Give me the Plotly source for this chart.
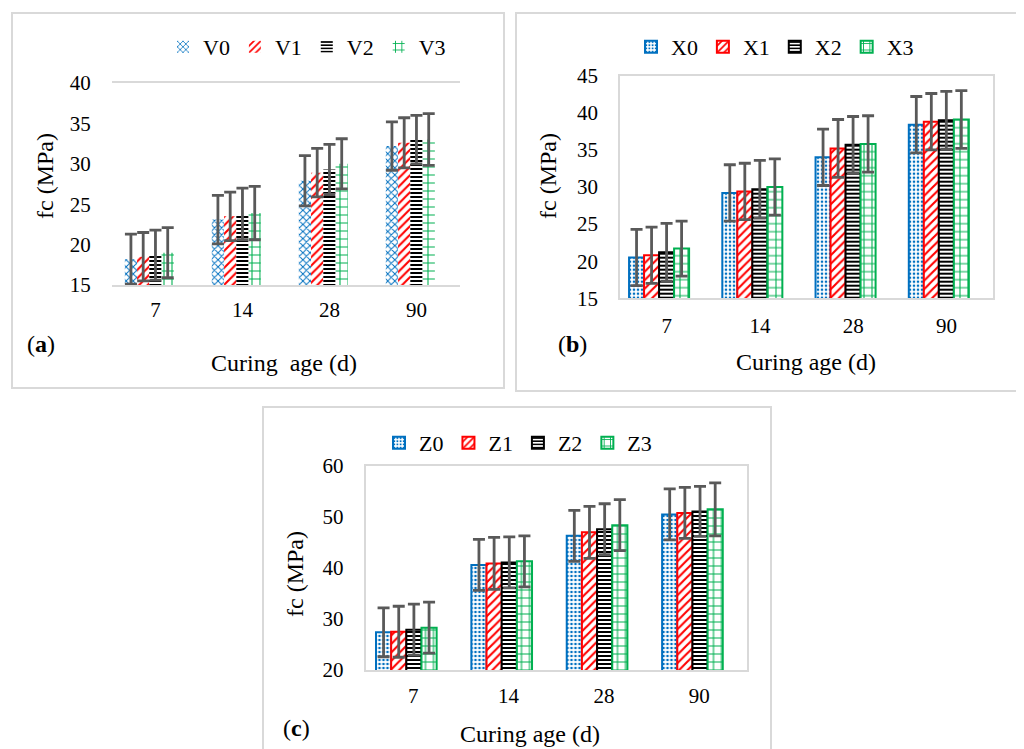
import plotly.graph_objects as go

W, H = 1024, 749
OX, OY = 8, 8  # page body margin of the browser
FONT = "Liberation Serif"

ages = ["7", "14", "28", "90"]

# Panel (a)
V_names = ["V0", "V1", "V2", "V3"]
V0 = [18.2, 23.1, 27.9, 32.2]
V1 = [18.5, 23.5, 28.9, 32.6]
V2 = [18.7, 23.8, 29.3, 33.0]
V3 = [19.0, 23.9, 30.0, 33.0]
V0_err = [3.1, 3.0, 3.1, 3.0]
V1_err = [3.0, 3.0, 3.0, 3.1]
V2_err = [3.1, 3.2, 3.1, 3.0]
V3_err = [3.1, 3.3, 3.1, 3.2]

# Panel (b)
X_names = ["X0", "X1", "X2", "X3"]
X0 = [20.5, 29.2, 34.0, 38.4]
X1 = [20.8, 29.4, 35.2, 38.8]
X2 = [21.2, 29.7, 35.7, 39.0]
X3 = [21.7, 30.0, 35.8, 39.1]
X0_err = [3.8, 3.8, 3.8, 3.8]
X1_err = [3.8, 3.8, 3.9, 3.8]
X2_err = [3.9, 3.9, 3.8, 3.9]
X3_err = [3.7, 3.8, 3.8, 3.9]

# Panel (c)
Z_names = ["Z0", "Z1", "Z2", "Z3"]
Z0 = [27.4, 40.6, 46.3, 50.5]
Z1 = [27.5, 40.9, 47.0, 50.8]
Z2 = [27.9, 41.1, 47.6, 51.1]
Z3 = [28.3, 41.3, 48.4, 51.5]
Z0_err = [4.8, 5.0, 5.0, 5.0]
Z1_err = [5.0, 5.1, 5.1, 5.0]
Z2_err = [5.0, 5.0, 5.0, 4.9]
Z3_err = [5.0, 5.0, 5.0, 5.2]

colors = ["#0070C0", "#FF0000", "#000000", "#00B050"]
patA = [dict(shape="x", size=5, solidity=0.35),
        dict(shape="/", size=6, solidity=0.35),
        dict(shape="-", size=4, solidity=0.5),
        dict(shape="+", size=8, solidity=0.25)]
patB = [dict(shape=".", size=4, solidity=0.35),
        dict(shape="/", size=6, solidity=0.35),
        dict(shape="-", size=4, solidity=0.5),
        dict(shape="+", size=8, solidity=0.25)]

def px(x):
    return (x - OX) / W

def py(y):
    return 1 - (y - OY) / H

fig = go.Figure()

panels = [
    dict(names=V_names, vals=[V0, V1, V2, V3], errs=[V0_err, V1_err, V2_err, V3_err],
         pats=patA, outline=0, xa="x", ya="y", legend="legend", bw=0.141, start=-0.353),
    dict(names=X_names, vals=[X0, X1, X2, X3], errs=[X0_err, X1_err, X2_err, X3_err],
         pats=patB, outline=2, xa="x2", ya="y2", legend="legend2", bw=0.161, start=-0.403),
    dict(names=Z_names, vals=[Z0, Z1, Z2, Z3], errs=[Z0_err, Z1_err, Z2_err, Z3_err],
         pats=patB, outline=2, xa="x3", ya="y3", legend="legend3", bw=0.159, start=-0.39),
]

for p in panels:
    for i in range(4):
        pat = dict(p["pats"][i])
        pat.update(fgcolor=colors[i], bgcolor="white", fillmode="replace")
        fig.add_trace(go.Bar(
            x=ages, y=p["vals"][i], name=p["names"][i],
            xaxis=p["xa"], yaxis=p["ya"], legend=p["legend"],
            width=p["bw"], offset=p["start"] + i * p["bw"],
            marker=dict(color=colors[i], pattern=pat,
                        line=dict(color=colors[i], width=p["outline"])),
            error_y=dict(type="data", array=p["errs"][i], color="#595959",
                         thickness=2.8, width=6),
        ))

tickfont = dict(family=FONT, size=21, color="black")
line_c = "#d9d9d9"

def xax(domain, anchor, tl):
    return dict(type="category", domain=domain, showline=True, linecolor=line_c,
                linewidth=1.5, mirror=True, showgrid=False, ticks="outside",
                ticklen=tl, tickcolor="rgba(0,0,0,0)", tickfont=tickfont,
                anchor=anchor, fixedrange=True)

def yax(domain, rng, dtick, showline, anchor):
    return dict(domain=domain, range=rng, dtick=dtick, showgrid=False,
                showline=showline, linecolor=line_c, linewidth=1.5, mirror=showline,
                ticks="outside", ticklen=16, tickcolor="rgba(0,0,0,0)",
                tickfont=tickfont, zeroline=False, anchor=anchor, fixedrange=True)

fig.update_layout(
    width=W, height=H, autosize=False,
    margin=dict(l=0, r=0, t=0, b=0, pad=0, autoexpand=False),
    paper_bgcolor="white", plot_bgcolor="white",
    barmode="overlay",
    font=dict(family=FONT, color="black"),
    xaxis=xax([px(112), px(460)], "y", 5),
    yaxis=yax([py(285), py(83)], [15, 40], 5, False, "x"),
    xaxis2=xax([px(620), px(993)], "y2", 8),
    yaxis2=yax([py(298.3), py(75.7)], [15, 45], 5, True, "x2"),
    xaxis3=xax([px(365.5), px(747)], "y3", 6),
    yaxis3=yax([py(670), py(466)], [20, 60], 10, True, "x3"),
)

legfont = dict(family=FONT, size=22, color="black")
leg_common = dict(orientation="h", xanchor="center", yanchor="middle", font=legfont,
                  bgcolor="rgba(0,0,0,0)", itemwidth=30)
fig.update_layout(
    legend=dict(x=px(307), y=py(47), **leg_common),
    legend2=dict(x=px(775), y=py(47), **leg_common),
    legend3=dict(x=px(518), y=py(443), **leg_common),
)

# panel frames
frames = [(12, 13, 504, 388), (516, 13, 1021, 391), (263, 407, 771, 770)]
for (x0, y0, x1, y1) in frames:
    fig.add_shape(type="rect", xref="paper", yref="paper",
                  x0=px(x0), x1=px(x1), y0=py(y0), y1=py(y1),
                  line=dict(color="#d9d9d9", width=2), fillcolor="rgba(0,0,0,0)",
                  layer="below")

ann_font = dict(family=FONT, size=24, color="black")
annotations = [
    ("fc (MPa)", 45, 176, -90),
    ("fc (MPa)", 548, 176, -90),
    ("fc (MPa)", 295, 574, -90),
    ("Curing  age (d)", 284, 363, 0),
    ("Curing age (d)", 806, 362, 0),
    ("Curing age (d)", 530, 734, 0),
    ("(<b>a</b>)", 41, 344, 0),
    ("(<b>b</b>)", 572, 344, 0),
    ("(<b>c</b>)", 296, 728, 0),
]
for text, x, y, ang in annotations:
    fig.add_annotation(text=text, xref="paper", yref="paper", x=px(x), y=py(y),
                       xanchor="center", yanchor="middle", showarrow=False,
                       textangle=ang, font=ann_font)

fig.write_html("out.html")
